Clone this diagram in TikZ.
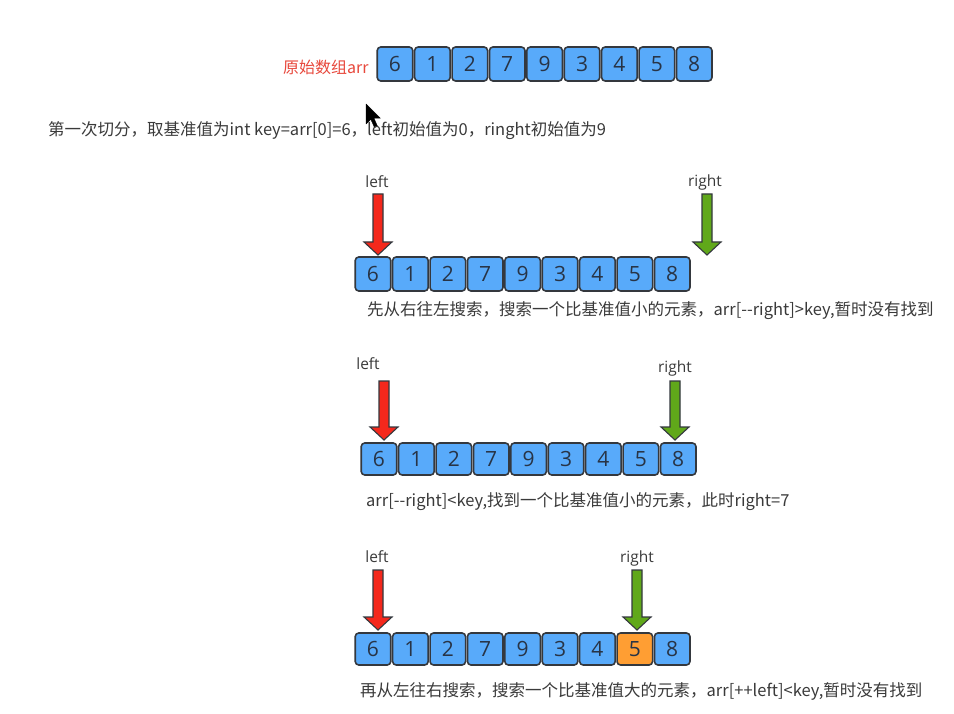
\documentclass[tikz,border=0pt]{standalone}
\usepackage{fontspec}
\setmainfont{Noto Sans CJK SC}
\newfontfamily\cjk{Noto Sans CJK SC}
\newfontfamily\digitfont{Open Sans}
\usetikzlibrary{calc}
\definecolor{cellblue}{RGB}{88,170,250}
\definecolor{cellorange}{RGB}{255,158,51}
\definecolor{edge}{RGB}{52,56,62}
\definecolor{txt}{RGB}{58,58,58}
\definecolor{digit}{RGB}{40,52,70}
\definecolor{titlered}{RGB}{232,72,60}
\definecolor{ptrred}{RGB}{244,40,28}
\definecolor{ptrgreen}{RGB}{96,168,26}
\tikzset{
  cell/.style={rectangle, rounded corners=3.5pt, draw=edge, line width=1.6pt,
    fill=cellblue, minimum width=35.5pt, inner sep=0pt,
    font=\digitfont\fontsize{21}{21}\selectfont, text=digit},
  hot/.style={fill=cellorange},
  caption/.style={anchor=west, inner sep=0pt, text=txt, font=\cjk\fontsize{16.5}{19}\selectfont},
  tag/.style={inner sep=0pt, text=txt, font=\digitfont\fontsize{15.5}{17}\selectfont},
  ptr/.style={draw=edge, line width=1.1pt, line join=miter},
}
% a downward block arrow: centre x, top y, tip y, fill colour
\newcommand\pointer[4]{%
  \filldraw[ptr, fill=#4] (#1-5,#2) -- (#1+5,#2) -- (#1+5,#3-13) -- (#1+14,#3-13)
    -- (#1,#3) -- (#1-14,#3-13) -- (#1-5,#3-13) -- cycle;}
% one row of nine cells: name prefix, left edge, centre y, height, orange index
\newcommand\cellrow[5]{%
  \foreach \v [count=\i] in {6,1,2,7,9,3,4,5,8}{
    \ifnum\i=#5\relax
      \node[cell, hot, minimum height=#4pt] (#1\i) at ({#2+(\i-1)*37.4+18}, #3) {\v};
    \else
      \node[cell, minimum height=#4pt] (#1\i) at ({#2+(\i-1)*37.4+18}, #3) {\v};
    \fi}}
\begin{document}
\begin{tikzpicture}[x=1pt, y=-1pt]
  \useasboundingbox[fill=white] (0,0) rectangle (954,714);

  % original array
  \node[caption, text=titlered, font=\cjk\fontsize{16}{18}\selectfont] (title) at (283,67) {原始数组arr};
  \cellrow{a}{377}{64}{34}{0}

  % mouse pointer
  \filldraw[black, line join=round, line width=0.4pt]
    (366,104) -- (366,124) -- (370.8,119.2) -- (374.5,127.5) -- (377.5,126.3)
    -- (373.9,118.2) -- (380.4,118.2) -- cycle;

  \node[caption] (intro) at (48,131) {第一次切分，取基准值为int key=arr[0]=6，left初始值为0，ringht初始值为9};

  % step 1
  \node[tag] (l1) at (377,182) {left};
  \node[tag] (r1) at (705,182) {right};
  \pointer{378}{194}{255}{ptrred}
  \pointer{707}{194}{255}{ptrgreen}
  \cellrow{b}{355}{274}{34}{0}
  \node[caption] (s1) at (367,311) {先从右往左搜索，搜索一个比基准值小的元素，arr[-{}-right]>key,暂时没有找到};

  % step 2
  \node[tag] (l2) at (368,364) {left};
  \node[tag] (r2) at (675,368) {right};
  \pointer{384}{381}{440}{ptrred}
  \pointer{675}{381}{440}{ptrgreen}
  \cellrow{c}{361}{459}{32}{0}
  \node[caption] (s2) at (366,502) {arr[-{}-right]<key,找到一个比基准值小的元素，此时right=7};

  % step 3
  \node[tag] (l3) at (377,557) {left};
  \node[tag] (r3) at (637,558) {right};
  \pointer{378}{570}{630}{ptrred}
  \pointer{637}{570}{630}{ptrgreen}
  \cellrow{d}{355}{649}{32}{8}
  \node[caption] (s3) at (360,691) {再从左往右搜索，搜索一个比基准值大的元素，arr[++left]<key,暂时没有找到};
\end{tikzpicture}
\end{document}
